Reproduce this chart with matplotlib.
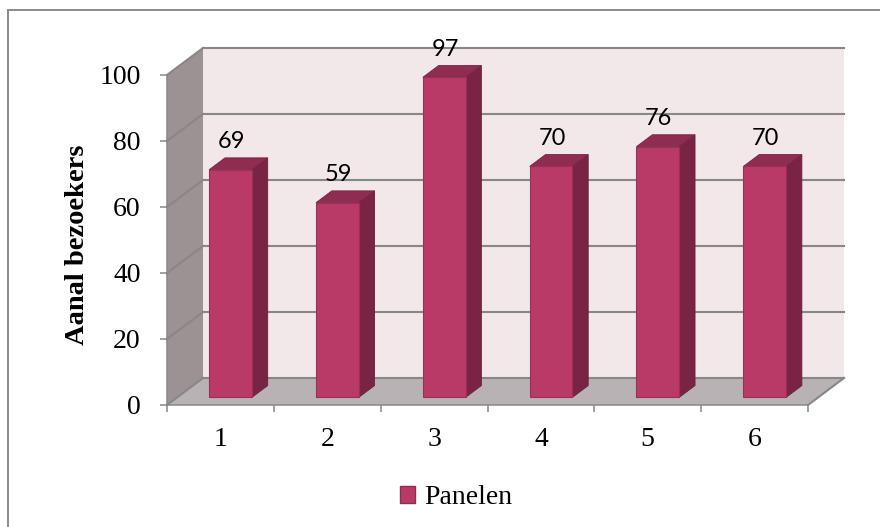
import matplotlib.pyplot as plt
from matplotlib.patches import Polygon, Rectangle, Patch
from matplotlib.transforms import Affine2D, IdentityTransform

# bezoekers per paneel
categories = ['1', '2', '3', '4', '5', '6']
values = [69, 59, 97, 70, 76, 70]
series_name = 'Panelen'
y_ticks = [0, 20, 40, 60, 80, 100]

SERIF = 'Liberation Serif'
SANS = 'Lato'

# 3D look: pixel shift of the back plane relative to the front plane
DEPTH_X, DEPTH_Y = 36, 27
BAR_D0, BAR_D1 = 0.28, 0.72     # bar front/back as fraction of depth
BAR_W = 0.4                      # bar width in category units

fig = plt.figure(figsize=(8.8, 5.27), dpi=100)
fig.patch.set_facecolor('white')

# chart area border
fig.patches.append(Rectangle((8 / 880, -0.2), 1.2, 1.2 - 10 / 527,
                             transform=fig.transFigure, fill=False,
                             edgecolor='#8a8a8a', lw=1.4))

ax = fig.add_axes([167 / 880, 122 / 527, 641 / 880, 330 / 527])
ax.set_xlim(0, len(categories))
ax.set_ylim(0, 100)
ax.patch.set_visible(False)


def depth(f):
    return ax.transData + Affine2D().translate(DEPTH_X * f, DEPTH_Y * f)


def pts(coords):
    # (x, value, depth) -> pixels
    return [depth(d).transform((x, v)) for x, v, d in coords]


def face(coords, color, z, ec='none', lw=0):
    p = Polygon(pts(coords), closed=True, transform=IdentityTransform(),
                facecolor=color, edgecolor=ec, lw=lw, zorder=z)
    p.set_clip_on(False)
    ax.add_artist(p)


def line(coords, z=1.5):
    xy = pts(coords)
    l = plt.Line2D([xy[0][0], xy[1][0]], [xy[0][1], xy[1][1]],
                   transform=IdentityTransform(), color='#878787', lw=1.5,
                   zorder=z, clip_on=False)
    ax.add_artist(l)


n = len(categories)
# walls and floor
face([(0, 0, 1), (n, 0, 1), (n, 100, 1), (0, 100, 1)], '#f2e8ea', 1)
face([(0, 0, 0), (0, 100, 0), (0, 100, 1), (0, 0, 1)], '#9c9294', 1)
face([(0, 0, 0), (n, 0, 0), (n, 0, 1), (0, 0, 1)], '#b9b2b4', 1.2)

for t in y_ticks:
    if t > 0:
        line([(0, t, 1), (n, t, 1)])
    line([(0, t, 0), (0, t, 1)])
line([(0, 0, 1), (n, 0, 1)], 1.3)
line([(n, 0, 0), (n, 0, 1)], 1.3)

# bars
for i, v in enumerate(values):
    x0 = i + 0.5 - BAR_W / 2
    x1 = i + 0.5 + BAR_W / 2
    face([(x1, 0, BAR_D0), (x1, v, BAR_D0), (x1, v, BAR_D1), (x1, 0, BAR_D1)],
         '#7a2445', 3, '#6a1f3c', 0.6)
    face([(x0, v, BAR_D0), (x1, v, BAR_D0), (x1, v, BAR_D1), (x0, v, BAR_D1)],
         '#8e2c51', 3, '#7a2445', 0.6)
    face([(x0, 0, BAR_D0), (x1, 0, BAR_D0), (x1, v, BAR_D0), (x0, v, BAR_D0)],
         '#b93a66', 4, '#9c2f55', 0.8)
    ax.text(i + 0.5 + 0.01, v, str(v),
            transform=depth(BAR_D0) + Affine2D().translate(0, 28),
            ha='center', va='center', fontsize=17, family=SANS,
            color='black', zorder=6)

# axes
for s in ['top', 'right']:
    ax.spines[s].set_visible(False)
for s in ['left', 'bottom']:
    ax.spines[s].set_color('#878787')
    ax.spines[s].set_linewidth(1.1)
    ax.spines[s].set_zorder(2)

ax.set_yticks(y_ticks)
ax.set_yticklabels([str(t) for t in y_ticks], family=SERIF, fontsize=20)
ax.tick_params(axis='y', direction='out', length=5, width=1.1,
               color='#878787', pad=14)

ax.set_xticks(range(n + 1))
ax.set_xticklabels([])
ax.set_xticks([i + 0.5 for i in range(n)], minor=True)
ax.set_xticklabels(categories, minor=True, family=SERIF, fontsize=20)
ax.tick_params(axis='x', which='major', direction='out', length=5,
               width=1.1, color='#878787')
ax.tick_params(axis='x', which='minor', length=0, pad=16)

fig.text(77 / 880, 1 - 245 / 527, 'Aanal bezoekers', rotation=90,
         ha='center', va='center', family=SERIF, fontweight='bold',
         fontsize=20.5)

handle = Patch(facecolor='#b93a66', edgecolor='#8e2c51', lw=1)
fig.legend([handle], [series_name], loc='center',
           bbox_to_anchor=(456 / 880, 1 - 498 / 527), frameon=False,
           prop={'family': SERIF, 'size': 20}, handlelength=0.55,
           handleheight=0.55, handletextpad=0.3)

fig.savefig('out.png', dpi=100)
